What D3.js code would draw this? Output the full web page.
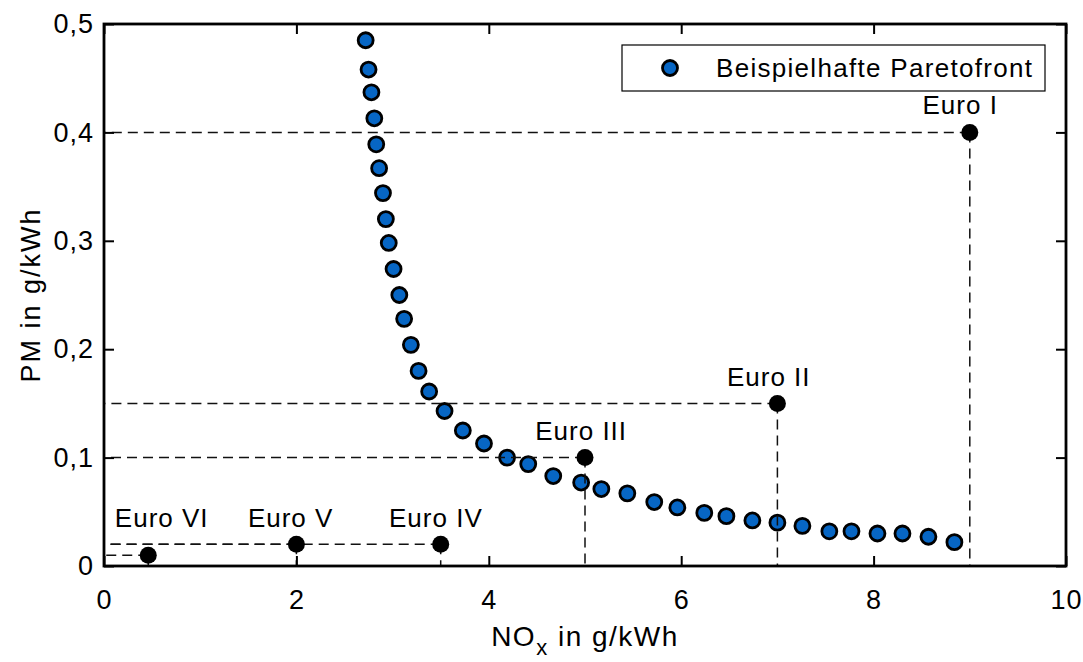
<!DOCTYPE html>
<html>
<head>
<meta charset="utf-8">
<script src="https://cdn.jsdelivr.net/npm/d3@7"></script>
<style>
  body { margin: 0; background: #fff; }
  svg text { font-family: "Liberation Sans", Arial, sans-serif; fill: #000; }
</style>
</head>
<body>
<svg id="chart" width="1083" height="662"></svg>
<script>
// Paretofront (NOx, PM)
var paretoNox = [2.72, 2.75, 2.78, 2.81, 2.83, 2.86, 2.90, 2.93, 2.96, 3.01, 3.07, 3.12, 3.19,
  3.27, 3.38, 3.54, 3.73, 3.95, 4.19, 4.41, 4.67, 4.96, 5.17, 5.44, 5.72, 5.96, 6.24,
  6.47, 6.74, 7.00, 7.26, 7.54, 7.77, 8.04, 8.30, 8.57, 8.84];
var paretoPm = [0.485, 0.458, 0.437, 0.413, 0.389, 0.367, 0.344, 0.320, 0.298, 0.274, 0.250, 0.228, 0.204,
  0.180, 0.161, 0.143, 0.125, 0.113, 0.100, 0.094, 0.083, 0.077, 0.071, 0.067, 0.059, 0.054, 0.049,
  0.046, 0.042, 0.040, 0.037, 0.032, 0.032, 0.030, 0.030, 0.027, 0.022];

// Euro-Normen
var euroNames = ['Euro I', 'Euro II', 'Euro III', 'Euro IV', 'Euro V', 'Euro VI'];
var euroNox = [9, 7, 5, 3.5, 2, 0.46];
var euroPm = [0.4, 0.15, 0.1, 0.02, 0.02, 0.01];
var labelNox = [8.9, 6.91, 4.96, 3.45, 1.94, 0.6];
var labelPm = [0.417, 0.166, 0.116, 0.036, 0.036, 0.036];

var xTicks = [0, 2, 4, 6, 8, 10];
var yTicks = [0, 0.1, 0.2, 0.3, 0.4, 0.5];
var legendLabel = 'Beispielhafte Paretofront';

var margin = { top: 24, right: 17, bottom: 96, left: 104 };
var width = 1083 - margin.left - margin.right,
    height = 662 - margin.top - margin.bottom;

var svg = d3.select('#chart');
var g = svg.append('g')
  .attr('transform', 'translate(' + margin.left + ',' + margin.top + ')');

var x = d3.scaleLinear().domain([0, 10]).range([0, width]);
var y = d3.scaleLinear().domain([0, 0.5]).range([height, 0]);

var fmtX = function(v) { return String(v); };
var fmtY = function(v) { return v === 0 ? '0' : d3.format('.1f')(v).replace('.', ','); };

// Hilfslinien (gestrichelt), vom Punkt zur Achse
var guides = [];
euroNox.forEach(function(n, i) {
  guides.push([[n, euroPm[i]], [0, euroPm[i]]]);
  guides.push([[n, euroPm[i]], [n, 0]]);
});
var line = d3.line().x(function(d) { return x(d[0]); }).y(function(d) { return y(d[1]); });

var paretoData = paretoNox.map(function(n, i) { return { nox: n, pm: paretoPm[i] }; });
g.selectAll('.pareto')
  .data(paretoData)
  .enter().append('circle')
  .attr('class', 'pareto')
  .attr('cx', function(d) { return x(d.nox); })
  .attr('cy', function(d) { return y(d.pm); })
  .attr('r', 7.5)
  .attr('fill', '#0766c4')
  .attr('stroke', '#000')
  .attr('stroke-width', 2.8);

g.selectAll('.guide')
  .data(guides)
  .enter().append('path')
  .attr('class', 'guide')
  .attr('d', line)
  .attr('fill', 'none')
  .attr('stroke', '#111')
  .attr('stroke-width', 1.5)
  .attr('stroke-dasharray', '10,6');

var euroData = euroNames.map(function(name, i) {
  return { name: name, nox: euroNox[i], pm: euroPm[i], lx: labelNox[i], ly: labelPm[i] };
});
g.selectAll('.euro')
  .data(euroData)
  .enter().append('circle')
  .attr('class', 'euro')
  .attr('cx', function(d) { return x(d.nox); })
  .attr('cy', function(d) { return y(d.pm); })
  .attr('r', 8.5)
  .attr('fill', '#000');

g.selectAll('.euro-label')
  .data(euroData)
  .enter().append('text')
  .attr('class', 'euro-label')
  .attr('x', function(d) { return x(d.lx); })
  .attr('y', function(d) { return y(d.ly); })
  .attr('text-anchor', 'middle')
  .style('font-size', '26px')
  .style('letter-spacing', '1px')
  .text(function(d) { return d.name; });

// Achsen mit Ticks nach innen, auf allen Seiten
var axB = g.append('g').attr('transform', 'translate(0,' + height + ')')
  .call(d3.axisBottom(x).tickValues(xTicks).tickSizeInner(-10).tickSizeOuter(0).tickPadding(24).tickFormat(fmtX));
var axT = g.append('g')
  .call(d3.axisTop(x).tickValues(xTicks).tickSizeInner(-10).tickSizeOuter(0).tickFormat(''));
var axL = g.append('g')
  .call(d3.axisLeft(y).tickValues(yTicks).tickSizeInner(-10).tickSizeOuter(0).tickPadding(20).tickFormat(fmtY));
var axR = g.append('g').attr('transform', 'translate(' + width + ',0)')
  .call(d3.axisRight(y).tickValues(yTicks).tickSizeInner(-10).tickSizeOuter(0).tickFormat(''));

[axB, axT, axL, axR].forEach(function(a) {
  a.select('.domain').remove();
  a.selectAll('line').attr('stroke', '#000').attr('stroke-width', 2);
  a.selectAll('text').style('font-size', '27px').style('letter-spacing', '1px')
    .attr('font-family', null);
});
axB.selectAll('text').attr('dy', '0.71em');
axL.selectAll('text').attr('x', -10);

g.append('rect')
  .attr('width', width)
  .attr('height', height)
  .attr('fill', 'none')
  .attr('stroke', '#000')
  .attr('stroke-width', 2.8);

// Achsenbeschriftungen
var xl = svg.append('text')
  .attr('x', margin.left + width / 2)
  .attr('y', 646)
  .attr('text-anchor', 'middle')
  .style('font-size', '28px')
  .style('letter-spacing', '1.5px');
xl.append('tspan').text('NO');
xl.append('tspan').attr('dy', 9).style('font-size', '22px').text('x');
xl.append('tspan').attr('dy', -9).text(' in g/kWh');

svg.append('text')
  .attr('transform', 'translate(40,' + (margin.top + height / 2) + ') rotate(-90)')
  .attr('text-anchor', 'middle')
  .style('font-size', '27px')
  .style('letter-spacing', '2px')
  .text('PM in g/kWh');

// Legende
var leg = svg.append('g').attr('transform', 'translate(622,45)');
leg.append('rect')
  .attr('width', 423)
  .attr('height', 46)
  .attr('fill', '#fff')
  .attr('stroke', '#000')
  .attr('stroke-width', 1.2);
leg.append('circle')
  .attr('cx', 48)
  .attr('cy', 23)
  .attr('r', 7.5)
  .attr('fill', '#0766c4')
  .attr('stroke', '#000')
  .attr('stroke-width', 2.8);
leg.append('text')
  .attr('x', 94)
  .attr('y', 32)
  .style('font-size', '26px')
  .style('letter-spacing', '1.3px')
  .text(legendLabel);
</script>
</body>
</html>
